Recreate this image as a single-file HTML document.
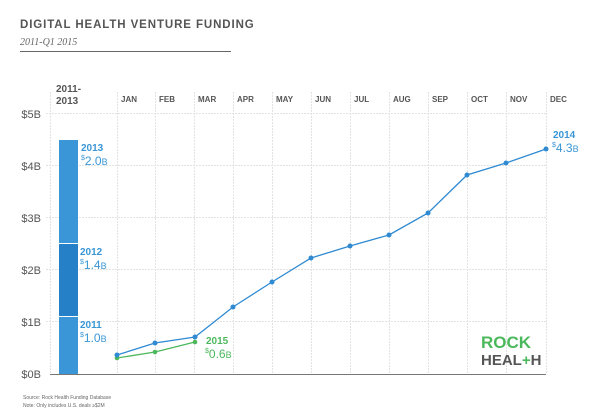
<!DOCTYPE html>
<html><head><style>
body{margin:0;background:#fff;}
svg{display:block;font-family:"Liberation Sans",sans-serif;}
</style></head><body>
<svg width="600" height="417" viewBox="0 0 600 417">
<text x="20" y="28" font-size="11.5" font-weight="bold" fill="#555" letter-spacing="0.9">DIGITAL HEALTH VENTURE FUNDING</text>
<text x="20" y="45" font-size="10" font-style="italic" fill="#666" font-family="Liberation Serif,serif">2011-Q1 2015</text>
<line x1="20" y1="51.5" x2="231" y2="51.5" stroke="#666" stroke-width="1"/>
<text x="56" y="92" font-size="10" font-weight="bold" fill="#555">2011-</text>
<text x="56" y="104" font-size="10" font-weight="bold" fill="#555">2013</text>
<g stroke="#e2e2e2" stroke-width="1" stroke-dasharray="2,1">
<line x1="50.5" y1="92" x2="50.5" y2="374"/>
<line x1="117.5" y1="92" x2="117.5" y2="374"/><line x1="155.5" y1="92" x2="155.5" y2="374"/>
<line x1="194.5" y1="92" x2="194.5" y2="374"/><line x1="233.5" y1="92" x2="233.5" y2="374"/>
<line x1="272.5" y1="92" x2="272.5" y2="374"/><line x1="311.5" y1="92" x2="311.5" y2="374"/>
<line x1="350.5" y1="92" x2="350.5" y2="374"/><line x1="389.5" y1="92" x2="389.5" y2="374"/>
<line x1="428.5" y1="92" x2="428.5" y2="374"/><line x1="467.5" y1="92" x2="467.5" y2="374"/>
<line x1="506.5" y1="92" x2="506.5" y2="374"/><line x1="546.5" y1="92" x2="546.5" y2="374"/>
<line x1="46" y1="113.5" x2="546" y2="113.5"/><line x1="46" y1="165.5" x2="546" y2="165.5"/>
<line x1="46" y1="217.5" x2="546" y2="217.5"/><line x1="46" y1="269.5" x2="546" y2="269.5"/>
<line x1="46" y1="321.5" x2="546" y2="321.5"/>
</g>
<g font-size="8" fill="#555" font-weight="bold">
<text x="121" y="102">JAN</text><text x="159" y="102">FEB</text><text x="198" y="102">MAR</text>
<text x="237" y="102">APR</text><text x="276" y="102">MAY</text><text x="315" y="102">JUN</text>
<text x="354" y="102">JUL</text><text x="393" y="102">AUG</text><text x="432" y="102">SEP</text>
<text x="471" y="102">OCT</text><text x="510" y="102">NOV</text><text x="550" y="102">DEC</text>
</g>
<g font-size="11" fill="#555" text-anchor="end">
<text x="41" y="118">$5B</text><text x="41" y="170">$4B</text><text x="41" y="222">$3B</text>
<text x="41" y="274">$2B</text><text x="41" y="326">$1B</text><text x="41" y="378">$0B</text>
</g>
<rect x="59" y="140" width="19" height="103" fill="#3a96d6"/>
<rect x="59" y="244" width="19" height="72" fill="#2580c8"/>
<rect x="59" y="317" width="19" height="57" fill="#3a96d6"/>
<line x1="59" y1="243.5" x2="78" y2="243.5" stroke="#fff"/>
<line x1="59" y1="316.5" x2="78" y2="316.5" stroke="#fff"/>
<line x1="50" y1="374.5" x2="546" y2="374.5" stroke="#777" stroke-width="1"/>
<g fill="#3a96d6">
<text x="81" y="151" font-size="10" font-weight="bold">2013</text>
<text x="81" y="165" font-size="12"><tspan font-size="7" dy="-5">$</tspan><tspan dy="5">2.0</tspan><tspan font-size="9">B</tspan></text>
<text x="80" y="255" font-size="10" font-weight="bold">2012</text>
<text x="80" y="269" font-size="12"><tspan font-size="7" dy="-5">$</tspan><tspan dy="5">1.4</tspan><tspan font-size="9">B</tspan></text>
<text x="80" y="328" font-size="10" font-weight="bold">2011</text>
<text x="80" y="342" font-size="12"><tspan font-size="7" dy="-5">$</tspan><tspan dy="5">1.0</tspan><tspan font-size="9">B</tspan></text>
<text x="553" y="138" font-size="10" font-weight="bold">2014</text>
<text x="552" y="152" font-size="12"><tspan font-size="7" dy="-5">$</tspan><tspan dy="5">4.3</tspan><tspan font-size="9">B</tspan></text>
</g>
<g fill="#4cb85c">
<text x="206" y="344" font-size="10" font-weight="bold">2015</text>
<text x="205" y="358" font-size="12"><tspan font-size="7" dy="-5">$</tspan><tspan dy="5">0.6</tspan><tspan font-size="9">B</tspan></text>
</g>
<polyline fill="none" stroke="#4cb85c" stroke-width="1.3" points="117,358 155,352 195,342"/>
<g fill="#4cb85c"><circle cx="117" cy="358" r="2.3"/><circle cx="155" cy="352" r="2.3"/><circle cx="195" cy="342" r="2.3"/></g>
<polyline fill="none" stroke="#2f8ad2" stroke-width="1.3" points="117,355 155,343 195,337 233,307 272,282 311,258 350,246 389,235 428,213 467,175 506,163 546,149"/>
<g fill="#2f8ad2">
<circle cx="117" cy="355" r="2.5"/><circle cx="155" cy="343" r="2.5"/><circle cx="195" cy="337" r="2.5"/>
<circle cx="233" cy="307" r="2.5"/><circle cx="272" cy="282" r="2.5"/><circle cx="311" cy="258" r="2.5"/>
<circle cx="350" cy="246" r="2.5"/><circle cx="389" cy="235" r="2.5"/><circle cx="428" cy="213" r="2.5"/>
<circle cx="467" cy="175" r="2.5"/><circle cx="506" cy="163" r="2.5"/><circle cx="546" cy="149" r="2.5"/>
</g>
<text x="481" y="348" font-size="17" font-weight="bold" fill="#4cb85c">ROCK</text>
<text x="481" y="365" font-size="15" font-weight="bold" fill="#555">HEAL<tspan fill="#4cb85c">+</tspan>H</text>
<text x="23" y="399" font-size="5" fill="#666">Source: Rock Health Funding Database</text>
<text x="23" y="407" font-size="5" fill="#666">Note: Only includes U.S. deals ≥$2M</text>
</svg>
</body></html>
